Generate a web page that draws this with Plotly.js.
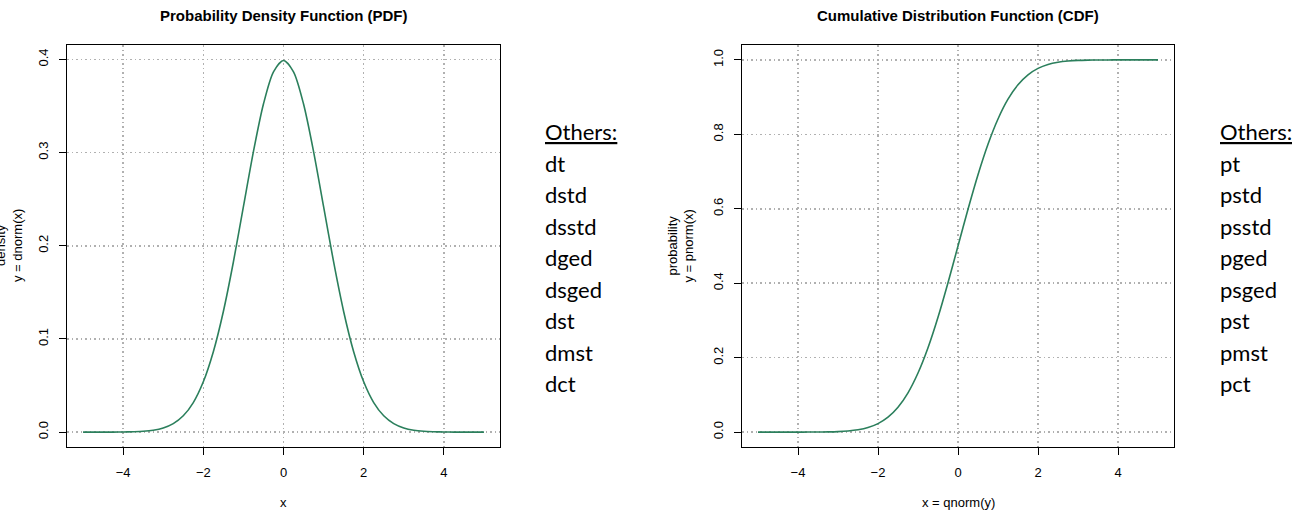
<!DOCTYPE html>
<html>
<head>
<meta charset="utf-8">
<script src="https://cdn.plot.ly/plotly-3.0.1.min.js"></script>
<style>
  html, body { margin: 0; padding: 0; background: #fff; }
  #chart { width: 1292px; height: 516px; }
</style>
</head>
<body>
<div id="chart"></div>
<script>
// ---- data ----
const xValues = [-5, -4.75, -4.5, -4.25, -4, -3.75, -3.5, -3.25, -3, -2.75, -2.5, -2.25, -2, -1.75, -1.5, -1.25, -1, -0.75, -0.5, -0.25,
  0, 0.25, 0.5, 0.75, 1, 1.25, 1.5, 1.75, 2, 2.25, 2.5, 2.75, 3, 3.25, 3.5, 3.75, 4, 4.25, 4.5, 4.75, 5];
const pdfValues = [0.0000, 0.0000, 0.0000, 0.0000, 0.0001, 0.0004, 0.0009, 0.0020, 0.0044, 0.0091, 0.0175, 0.0317, 0.0540, 0.0863, 0.1295, 0.1826, 0.2420, 0.3011, 0.3521, 0.3867,
  0.3989, 0.3867, 0.3521, 0.3011, 0.2420, 0.1826, 0.1295, 0.0863, 0.0540, 0.0317, 0.0175, 0.0091, 0.0044, 0.0020, 0.0009, 0.0004, 0.0001, 0.0000, 0.0000, 0.0000, 0.0000];
const cdfValues = [0.0000, 0.0000, 0.0000, 0.0000, 0.0000, 0.0001, 0.0002, 0.0006, 0.0013, 0.0030, 0.0062, 0.0122, 0.0228, 0.0401, 0.0668, 0.1056, 0.1587, 0.2266, 0.3085, 0.4013,
  0.5000, 0.5987, 0.6915, 0.7734, 0.8413, 0.8944, 0.9332, 0.9599, 0.9772, 0.9878, 0.9938, 0.9970, 0.9987, 0.9994, 0.9998, 0.9999, 1.0000, 1.0000, 1.0000, 1.0000, 1.0000];
const pdfTitle = "Probability Density Function (PDF)";
const cdfTitle = "Cumulative Distribution Function (CDF)";
const pdfOthers = ["dt", "dstd", "dsstd", "dged", "dsged", "dst", "dmst", "dct"];
const cdfOthers = ["pt", "pstd", "psstd", "pged", "psged", "pst", "pmst", "pct"];
const othersHeader = "Others:";

// ---- layout helpers ----
const W = 1292, H = 516;
const px = v => v / W;
const py = v => 1 - v / H;

const lineColor = "#2b7f5c";
const tickFont = { family: "Liberation Sans Narrow, Liberation Sans, Arial, sans-serif", size: 13, color: "#000" };

function axisCommon() {
  return {
    showline: true, mirror: true, linecolor: "#000", linewidth: 1,
    ticks: "outside", ticklen: 7, tickwidth: 1, tickcolor: "#000",
    showgrid: true, gridcolor: "#b0b0b0", gridwidth: 1.5, griddash: "1.5px,3px",
    zeroline: false, tickfont: tickFont, fixedrange: true
  };
}

const traces = [
  { x: xValues, y: pdfValues, type: "scatter", mode: "lines", xaxis: "x", yaxis: "y",
    line: { color: lineColor, width: 1.6, shape: "spline", smoothing: 0.8 }, hoverinfo: "skip" },
  { x: xValues, y: cdfValues, type: "scatter", mode: "lines", xaxis: "x2", yaxis: "y2",
    line: { color: lineColor, width: 1.6, shape: "spline", smoothing: 0.8 }, hoverinfo: "skip" }
];

const layout = {
  width: W, height: H,
  margin: { l: 0, r: 0, t: 0, b: 0, pad: 0 },
  paper_bgcolor: "#fff", plot_bgcolor: "#fff",
  showlegend: false,
  xaxis: Object.assign(axisCommon(), {
    domain: [px(67), px(500)], range: [-5.4, 5.4], tickvals: [-4, -2, 0, 2, 4],
    ticktext: ["\u22124", "\u22122", "0", "2", "4"], ticklabelstandoff: 6, anchor: "y"
  }),
  yaxis: Object.assign(axisCommon(), {
    domain: [1 - 447 / H, 1 - 45 / H], range: [-0.016, 0.4155], tickvals: [0, 0.1, 0.2, 0.3, 0.4],
    ticktext: ["0.0", "0.1", "0.2", "0.3", "0.4"], tickangle: -90, ticklabelstandoff: 6, anchor: "x"
  }),
  xaxis2: Object.assign(axisCommon(), {
    domain: [px(742), px(1174)], range: [-5.4, 5.4], tickvals: [-4, -2, 0, 2, 4],
    ticktext: ["\u22124", "\u22122", "0", "2", "4"], ticklabelstandoff: 6, anchor: "y2"
  }),
  yaxis2: Object.assign(axisCommon(), {
    domain: [1 - 447 / H, 1 - 45 / H], range: [-0.04, 1.04], tickvals: [0, 0.2, 0.4, 0.6, 0.8, 1.0],
    ticktext: ["0.0", "0.2", "0.4", "0.6", "0.8", "1.0"], tickangle: -90, ticklabelstandoff: 6, anchor: "x2"
  }),
  annotations: []
};

const ann = layout.annotations;
const titleFont = { family: "Liberation Sans Narrow, Liberation Sans, Arial, sans-serif", size: 15, color: "#000" };
const labFont = { family: "Liberation Sans Narrow, Liberation Sans, Arial, sans-serif", size: 13, color: "#000" };
function add(text, x, y, font, extra) {
  ann.push(Object.assign({ text, x: px(x), y: py(y), xref: "paper", yref: "paper",
    showarrow: false, xanchor: "center", yanchor: "middle", font }, extra || {}));
}
add("<b>" + pdfTitle + "</b>", 283.5, 15, titleFont);
add("<b>" + cdfTitle + "</b>", 958, 15, titleFont);
add("x", 283.5, 502, labFont);
add("x = qnorm(y)", 958, 502, labFont);
add("density<br>y = dnorm(x)", 9, 246, labFont, { textangle: -90 });
add("probability<br>y = pnorm(x)", 680.5, 246, labFont, { textangle: -90 });

const othersFont = { family: "Lato, Noto Sans, sans-serif", size: 22, color: "#000" };
const rowY = [163, 194.5, 226, 257.5, 289, 320.5, 352, 383.5];
add("<u>" + othersHeader + "</u>", 543, 131, othersFont, { xanchor: "left" });
add("<u>" + othersHeader + "</u>", 1218, 131, othersFont, { xanchor: "left" });
pdfOthers.forEach((t, i) => add(t, 543, rowY[i], othersFont, { xanchor: "left" }));
cdfOthers.forEach((t, i) => add(t, 1218, rowY[i], othersFont, { xanchor: "left" }));

Plotly.newPlot("chart", traces, layout, { staticPlot: true, displayModeBar: false });
</script>
</body>
</html>
